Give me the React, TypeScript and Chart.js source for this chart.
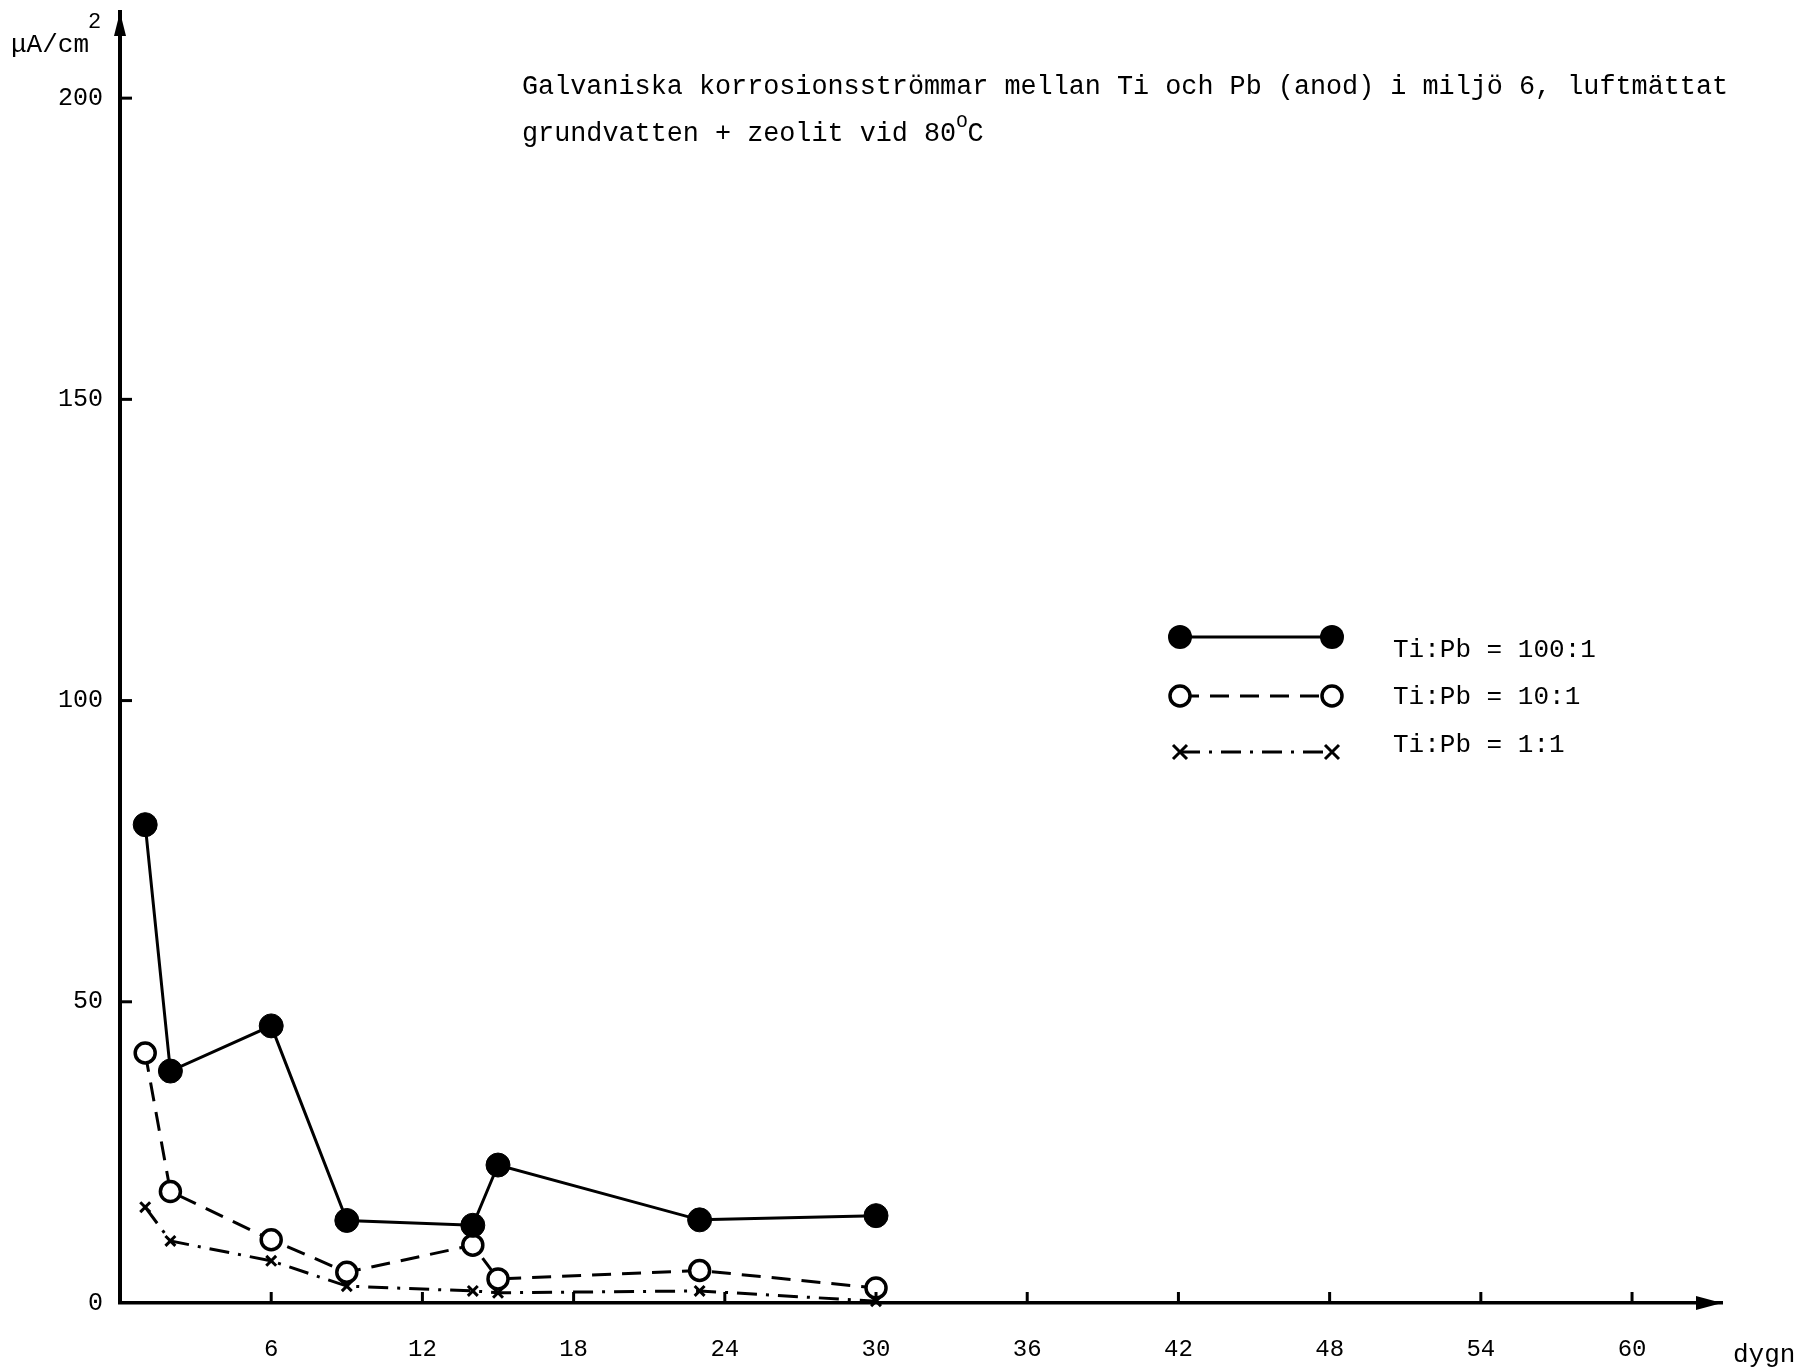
import React, { useEffect, useRef } from 'react';
import { Chart, registerables } from 'chart.js';

Chart.register(...registerables);

// ---- data ----
const days = [1, 2, 6, 9, 14, 15, 23, 30];
const ratio100 = [79.4, 38.5, 46.0, 13.7, 12.9, 22.9, 13.8, 14.5];
const ratio10 = [41.5, 18.5, 10.5, 5.1, 9.6, 4.0, 5.4, 2.5];
const ratio1 = [15.9, 10.3, 7.0, 2.8, 2.0, 1.7, 2.0, 0.3];
const seriesLabels = ['Ti:Pb = 100:1', 'Ti:Pb = 10:1', 'Ti:Pb = 1:1'];
const xTickValues = [6, 12, 18, 24, 30, 36, 42, 48, 54, 60];
const yTickValues = [0, 50, 100, 150, 200];
const titleLine1 = 'Galvaniska korrosionsströmmar mellan Ti och Pb (anod) i miljö 6, luftmättat';
const titleLine2 = 'grundvatten + zeolit vid 80';
const yUnit = 'μA/cm';
const xUnit = 'dygn';

const FONT = '"Liberation Mono", "DejaVu Sans Mono", monospace';

const decor = {
  id: 'decor',
  afterDraw(chart: any) {
    const { ctx, chartArea } = chart;
    const { left, right, top, bottom } = chartArea;
    const xs = chart.scales.x;
    const ys = chart.scales.y;
    ctx.save();
    ctx.fillStyle = '#000';
    ctx.strokeStyle = '#000';
    ctx.lineCap = 'butt';

    // inward ticks
    ctx.lineWidth = 3;
    yTickValues.forEach((v) => {
      if (v === 0) return;
      const py = ys.getPixelForValue(v);
      ctx.beginPath();
      ctx.moveTo(left, py);
      ctx.lineTo(left + 12, py);
      ctx.stroke();
    });
    xTickValues.forEach((v) => {
      const px = xs.getPixelForValue(v);
      ctx.beginPath();
      ctx.moveTo(px, bottom);
      ctx.lineTo(px, bottom - 11);
      ctx.stroke();
    });

    // arrow heads
    ctx.beginPath();
    ctx.moveTo(left, top);
    ctx.lineTo(left - 6, top + 24);
    ctx.lineTo(left + 6, top + 24);
    ctx.closePath();
    ctx.fill();
    ctx.beginPath();
    ctx.moveTo(right, bottom);
    ctx.lineTo(right - 26, bottom - 7);
    ctx.lineTo(right - 26, bottom + 7);
    ctx.closePath();
    ctx.fill();

    // unit labels
    ctx.textBaseline = 'middle';
    ctx.textAlign = 'left';
    ctx.font = `26px ${FONT}`;
    ctx.fillText(yUnit, 11, 45);
    const uw = ctx.measureText(yUnit).width;
    ctx.font = `22px ${FONT}`;
    ctx.fillText('2', 10 + uw, 22);
    ctx.font = `26px ${FONT}`;
    ctx.fillText(xUnit, 1733, 1355);

    // title
    ctx.font = `26.8px ${FONT}`;
    ctx.fillText(titleLine1, 522, 87);
    ctx.fillText(titleLine2, 522, 134);
    const t2w = ctx.measureText(titleLine2).width;
    ctx.font = `19px ${FONT}`;
    ctx.fillText('O', 522 + t2w, 122);
    const ow = ctx.measureText('O').width;
    ctx.font = `26.8px ${FONT}`;
    ctx.fillText('C', 522 + t2w + ow, 134);

    // legend
    const rows = [
      { my: 637, ly: 650 },
      { my: 696, ly: 697 },
      { my: 752, ly: 745 },
    ];
    const x1 = 1180;
    const x2 = 1332;
    const dashes = [[], [19, 11], [20, 9, 3, 9]];
    rows.forEach((r, i) => {
      ctx.setLineDash(dashes[i]);
      ctx.lineWidth = 3;
      ctx.beginPath();
      ctx.moveTo(x1, r.my);
      ctx.lineTo(x2, r.my);
      ctx.stroke();
      ctx.setLineDash([]);
      [x1, x2].forEach((mx) => {
        if (i === 0) {
          ctx.beginPath();
          ctx.arc(mx, r.my, 12, 0, Math.PI * 2);
          ctx.fill();
        } else if (i === 1) {
          ctx.beginPath();
          ctx.arc(mx, r.my, 10, 0, Math.PI * 2);
          ctx.fillStyle = '#fff';
          ctx.fill();
          ctx.lineWidth = 3.5;
          ctx.stroke();
          ctx.fillStyle = '#000';
        } else {
          ctx.lineWidth = 3;
          const d = 7;
          ctx.beginPath();
          ctx.moveTo(mx - d, r.my - d);
          ctx.lineTo(mx + d, r.my + d);
          ctx.moveTo(mx - d, r.my + d);
          ctx.lineTo(mx + d, r.my - d);
          ctx.stroke();
        }
      });
      ctx.font = `26px ${FONT}`;
      ctx.fillStyle = '#000';
      ctx.textAlign = 'left';
      ctx.fillText(seriesLabels[i], 1393, r.ly);
    });

    ctx.restore();
  },
};

export default function App() {
  const ref = useRef<HTMLCanvasElement | null>(null);

  useEffect(() => {
    document.body.style.margin = '0';
    const canvas = ref.current;
    if (!canvas) return;
    const toPts = (vals: number[]) => days.map((d, i) => ({ x: d, y: vals[i] }));
    const chart = new Chart(canvas, {
      type: 'line',
      data: {
        datasets: [
          {
            label: seriesLabels[0],
            data: toPts(ratio100),
            borderColor: '#000',
            backgroundColor: '#000',
            borderWidth: 3,
            pointStyle: 'circle',
            pointRadius: 12,
            pointBackgroundColor: '#000',
            pointBorderColor: '#000',
            pointBorderWidth: 1,
            tension: 0,
            clip: false,
          },
          {
            label: seriesLabels[1],
            data: toPts(ratio10),
            borderColor: '#000',
            backgroundColor: '#fff',
            borderWidth: 3,
            borderDash: [19, 11],
            pointStyle: 'circle',
            pointRadius: 10,
            pointBackgroundColor: '#fff',
            pointBorderColor: '#000',
            pointBorderWidth: 3.5,
            tension: 0,
            clip: false,
          },
          {
            label: seriesLabels[2],
            data: toPts(ratio1),
            borderColor: '#000',
            backgroundColor: '#000',
            borderWidth: 3,
            borderDash: [20, 9, 3, 9],
            pointStyle: 'crossRot',
            pointRadius: 7,
            pointBorderColor: '#000',
            pointBorderWidth: 3,
            tension: 0,
            clip: false,
          },
        ],
      } as any,
      options: {
        animation: false,
        responsive: false,
        maintainAspectRatio: false,
        layout: { padding: { top: 12, right: 79, left: 0, bottom: 0 }, autoPadding: false },
        plugins: {
          legend: { display: false },
          tooltip: { enabled: false },
          title: { display: false },
        },
        scales: {
          x: {
            type: 'linear',
            min: 0,
            max: 63.57,
            afterFit: (s: any) => {
              s.height = 67;
              s.paddingLeft = 0;
              s.paddingRight = 0;
            },
            afterBuildTicks: (s: any) => {
              s.ticks = xTickValues.map((v) => ({ value: v }));
            },
            grid: { display: false, drawTicks: false },
            border: { display: true, color: '#000', width: 3.5 },
            ticks: {
              padding: 32,
              color: '#000',
              maxRotation: 0,
              autoSkip: false,
              font: { family: FONT, size: 24 },
            },
          },
          y: {
            type: 'linear',
            min: 0,
            max: 214.3,
            afterFit: (s: any) => {
              s.width = 120;
              s.paddingTop = 0;
              s.paddingBottom = 0;
            },
            afterBuildTicks: (s: any) => {
              s.ticks = yTickValues.map((v) => ({ value: v }));
            },
            grid: { display: false, drawTicks: false },
            border: { display: true, color: '#000', width: 4 },
            ticks: {
              padding: 17,
              color: '#000',
              autoSkip: false,
              font: { family: FONT, size: 25 },
            },
          },
        },
      } as any,
      plugins: [decor],
    });
    return () => chart.destroy();
  }, []);

  return (
    <div style={{ width: 1801, height: 1370, background: '#fff' }}>
      <canvas ref={ref} width={1801} height={1370} style={{ display: 'block' }} />
    </div>
  );
}
